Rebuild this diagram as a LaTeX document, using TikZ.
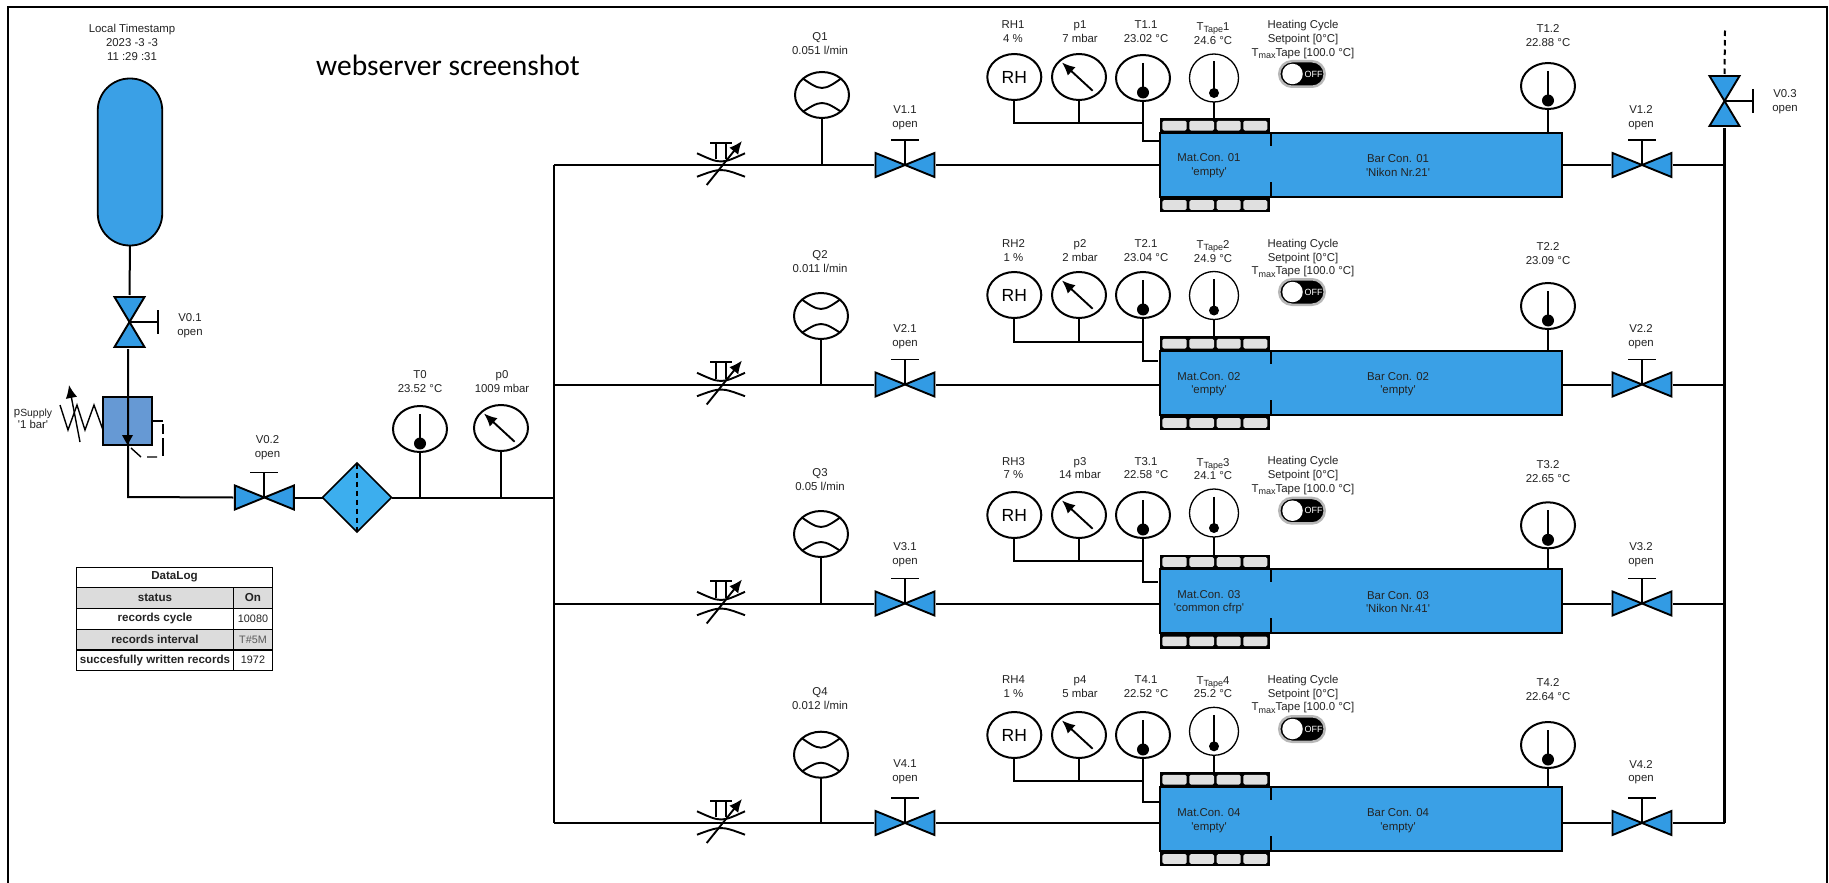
\documentclass[tikz,border=0pt]{standalone}
\usepackage{fontspec}
\setmainfont{Liberation Sans}[Ligatures=TeXOff]
\newfontfamily\titlefont{Carlito}
\usetikzlibrary{shapes.geometric, arrows.meta}
\definecolor{PlantBlue}{RGB}{58, 160, 230}
\definecolor{ValveBlue}{RGB}{50, 155, 228}
\definecolor{FilterBlue}{RGB}{60, 174, 238}
\definecolor{RegBlue}{RGB}{102, 153, 212}
\definecolor{CellGray}{RGB}{224, 224, 224}
\definecolor{RowGray}{RGB}{220, 220, 220}
\definecolor{LabelDark}{RGB}{35, 35, 35}
\newcommand{\lowtext}[1]{\raisebox{-2.5pt}{\fontsize{9}{9}\selectfont #1}}

\begin{document}
\begin{tikzpicture}[x=1pt, y=-1pt,
  lbl/.style={align=center, inner sep=0pt, text=LabelDark, yshift=-0.8pt,
    font=\fontsize{11.4}{13.8}\selectfont},
  pipe/.style={line width=2pt},
  wire/.style={line width=1.8pt},
  sym/.style={draw=black, line width=1.9pt, line join=miter},
  pin/.style={shift={(path picture bounding box.center)}},
  tip/.style={-{Latex[length=13pt, width=11.5pt]}},
  valveh/.style={minimum width=62pt, minimum height=58pt, inner sep=0pt, outer sep=0pt,
    path picture={
      \draw[sym, fill=ValveBlue, pin] (-29.5,-12) -- (0,0) -- (-29.5,12) -- cycle;
      \draw[sym, fill=ValveBlue, pin] (29.5,-12) -- (0,0) -- (29.5,12) -- cycle;
      \draw[sym, pin] (0,0) -- (0,-25) (-14,-25) -- (14,-25);}},
  valvev/.style={minimum width=62pt, minimum height=54pt, inner sep=0pt, outer sep=0pt,
    path picture={
      \draw[sym, fill=ValveBlue, pin] (-15,-25) -- (0,0) -- (15,-25) -- cycle;
      \draw[sym, fill=ValveBlue, pin] (-15,25) -- (0,0) -- (15,25) -- cycle;
      \draw[sym, pin] (0,0) -- (28.5,0) (28.5,-12) -- (28.5,12);}},
  gauge/.style={ellipse, draw=black, fill=white, line width=2pt, inner sep=0pt, outer sep=0pt,
    minimum width=54pt, minimum height=46pt},
  tgauge/.style={gauge, path picture={
      \draw[sym, pin, line width=1.5pt] (0,-15) -- (0,14);
      \fill[black, pin] (0,14.5) circle (6pt);}},
  pgauge/.style={gauge, path picture={
      \draw[sym, pin, tip] (13.6,13.7) -- (-17,-14.5);}},
  qgauge/.style={gauge, path picture={
      \draw[sym, pin] (-24,-20) .. controls (0,-2.7) .. (24,-20);
      \draw[sym, pin] (-24,20) .. controls (0,4) .. (24,20);}},
  rhgauge/.style={gauge, font=\fontsize{17.5}{18}\selectfont},
  tapegauge/.style={gauge, line width=1.3pt, minimum width=49pt, minimum height=48pt, path picture={
      \draw[sym, pin, line width=1.4pt] (0,-16.5) -- (0,14);
      \fill[black, pin] (0,15) circle (5pt);}},
  throttle/.style={minimum width=64pt, minimum height=62pt, inner sep=0pt, outer sep=0pt,
    path picture={
      \draw[sym, pin] (-24,-11.7) .. controls (0,-0.8) .. (24,-11.7);
      \draw[sym, pin] (-24,11.7) .. controls (0,2.8) .. (24,11.7);
      \draw[sym, pin, line width=1.6pt] (-11,-22.3) -- (11,-22.3) (-5.3,-22.3) -- (-5.3,-6) (5,-22.3) -- (5,-6);
      \draw[sym, pin, tip] (-14.3,20) -- (21,-24);}},
  barbox/.style={draw=black, fill=PlantBlue, line width=1.8pt, inner sep=0pt, outer sep=0pt,
    minimum width=402pt, minimum height=64pt,
    path picture={
      \draw[sym, pin] (-90,-32) -- (-90,-19) (-90,17) -- (-90,32);}},
  strip/.style={fill=black, inner sep=0pt, outer sep=0pt, minimum width=110pt, minimum height=14.7pt,
    path picture={
      \fill[CellGray, pin, rounded corners=1.5pt] (-52.7,-4.8) rectangle (-28.3,4.8);
      \fill[CellGray, pin, rounded corners=1.5pt] (-25.7,-4.8) rectangle (-1,4.8);
      \fill[CellGray, pin, rounded corners=1.5pt] (1.7,-4.8) rectangle (25.7,4.8);
      \fill[CellGray, pin, rounded corners=1.5pt] (28.3,-4.8) rectangle (52.3,4.8);}},
  onoff/.style={draw=black!28, fill=black, line width=2.5pt, rounded corners=12.75pt, inner sep=0pt,
    minimum width=45.5pt, minimum height=25.5pt, text width=41pt, align=right, text=white,
    font=\fontsize{9}{9}\selectfont},
  knob/.style={circle, fill=white, inner sep=0pt, minimum size=20.5pt},
  tbl/.style={draw=black, line width=0.8pt, inner sep=0pt, outer sep=0pt, minimum height=20.6pt,
    font=\fontsize{10.8}{12}\selectfont, text=LabelDark},
  thead/.style={tbl, font=\fontsize{11.6}{12}\bfseries\selectfont}
]
\useasboundingbox (0,0) rectangle (1829,883);
\fill[white] (0,0) rectangle (1829,883);
\draw[line width=1.8pt] (8,883) -- (8,7) -- (1827,7) -- (1827,883);

\node[font=\titlefont\fontsize{29.5}{30}\selectfont, inner sep=0pt] (title) at (448,65) {webserver screenshot};

% Supply - tank and regulator
\node[lbl] (stamp) at (132,41.5) {Local Timestamp\\2023 -3 -3\\11 :29 :31};
\node[draw=black, fill=PlantBlue, line width=1.8pt, rounded corners=32pt, minimum width=64.5pt,
      minimum height=167pt, inner sep=0pt, outer sep=0pt] (tank) at (130,162) {};
\node[valvev] (v01) at (129.5,322) {};
\node[lbl] (lv01) at (190,325) {V0.1\\open};
\node[draw=black, fill=RegBlue, line width=1.6pt, minimum width=49pt, minimum height=48pt, inner sep=0pt,
      path picture={\fill[black, pin] (-5.5,14) -- (5.5,14) -- (0,24) -- cycle;}] (reg) at (127.5,421) {};
\node[lbl, inner sep=0pt] (lreg) at (33,418) {p{\fontsize{10.4}{12}\selectfont\raisebox{-1pt}{Supply}}\\'1 bar'};
\node[valveh] (v02) at (264.4,497.5) {};
\node[lbl] (lv02) at (267.5,447) {V0.2\\open};
\node[diamond, shape aspect=1, draw=black, fill=FilterBlue, line width=1.6pt, inner sep=0pt, outer sep=0pt,
      minimum width=69pt, minimum height=69pt,
      path picture={\draw[pin, dash pattern=on 5pt off 4pt, line width=1.5pt] (0,-34) -- (0,34);}] (filter) at (357,497.5) {};
\node[tgauge] (t0) at (420,429) {};
\node[lbl] (lt0) at (420,381) {T0\\23.52 °C};
\node[pgauge] (p0) at (501,428) {};
\node[lbl] (lp0) at (502,381) {p0\\1009 mbar};
\coordinate (bend) at (128,497);
\coordinate (t1) at (554,165);
\coordinate (t4) at (554,823);
\coordinate (feed) at (554,497.5);
\coordinate (r4) at (1724.5,823);

\draw[pipe] (tank.south) -- (v01.north);
\draw[pipe] ([xshift=-1.5pt]v01.south) -- (bend) -- (v02.west);
\draw[pipe] (v02.east) -- (filter.west);
\draw[pipe] (filter.east) -- (feed);
\draw[pipe] (t0.south) -- (t0.south |- feed);
\draw[pipe] (p0.south) -- (p0.south |- feed);
\draw[pipe] (t1) -- (t4);

% Regulator spring and pilot line
\draw[line width=1.4pt] (60,405) -- (68,430) -- (77,405) -- (85,430) -- (94,405) -- (103,430);
\draw[line width=1.4pt, tip] (80,442) -- (69,385);
\draw[line width=1.4pt] (131,448) -- (141,457) (147,457) -- (157,457);
\draw[line width=1.4pt] (152,421) -- (163,421) (163,424) -- (163,434) (163,438) -- (163,456);

% Vent valve
\node[valvev] (v03) at (1724.5,101) {};
\node[lbl] (lv03) at (1785,101) {V0.3\\open};
\coordinate (vent) at (1725,30);
\draw[pipe, dash pattern=on 5.5pt off 4pt] (v03.north) -- (vent);
\draw[pipe, line width=2.2pt] (v03.south) -- (r4);

% Row 1
\coordinate (t1a) at (554,165);
\coordinate (r1) at (1724.5,165);
\coordinate (c1) at (1143,123);
\coordinate (i1) at (1160,141);
\node[throttle] (fc1) at (721,165) {};
\node[qgauge] (q1) at (822,95) {};
\node[lbl] (lq1) at (820,43) {Q1\\0.051 l/min};
\node[valveh] (v11) at (905,165) {};
\node[lbl] (lv11) at (905,117) {V1.1\\open};
\node[rhgauge] (rh1) at (1014.3,77) {RH};
\node[lbl] (lrh1) at (1013,31) {RH1\\4 \%};
\node[pgauge] (p1) at (1079,77) {};
\node[lbl] (lp1) at (1080,31) {p1\\7 mbar};
\node[tgauge] (t11) at (1143,78) {};
\node[lbl] (lt11) at (1146,31) {T1.1\\23.02 °C};
\node[tapegauge] (tp1) at (1214,78) {};
\node[lbl] (ltp1) at (1213,32.5) {T\lowtext{Tape}1\\24.6 °C};
\node[lbl] (heat1) at (1303,39) {Heating Cycle\\Setpoint [0°C]\\T\lowtext{max}Tape [100.0 °C]};
\node[onoff] (sw1) at (1302,74) {OFF};
\node[knob] (kn1) at ([xshift=-9.5pt]sw1.center) {};
\node[strip] (st1) at (1215,125.7) {};
\node[strip] (sb1) at (1215,205) {};
\node[barbox] (b1) at (1361,165) {};
\node[lbl] (mc1) at (1209,165) {Mat.Con. 01\\'empty'};
\node[lbl] (bc1) at (1398,165) {Bar Con. 01\\'Nikon Nr.21'};
\node[tgauge] (t12) at (1548,86) {};
\node[lbl] (lt12) at (1548,35) {T1.2\\22.88 °C};
\node[valveh] (v12) at (1642,165) {};
\node[lbl] (lv12) at (1641,117) {V1.2\\open};

\draw[pipe] (t1a) -- (v11.west);
\draw[pipe] (q1.south) -- (q1.south |- v11);
\draw[pipe] (v11.east) -- (v11.east -| b1.west);
\draw[wire] (rh1.south) |- (c1);
\draw[wire] (p1.south) -- (p1.south |- c1);
\draw[wire] (t11.south) |- (i1);
\draw[wire] (tp1.south) -- (tp1.south |- st1.north);
\draw[wire] (t12.south) -- (t12.south |- b1.north);
\draw[pipe] (v12.west -| b1.east) -- (v12.west);
\draw[pipe] (v12.east) -- (r1);

% Row 2
\coordinate (t2a) at (554,384.5);
\coordinate (r2) at (1724.5,384.5);
\coordinate (c2) at (1143,341.7);
\coordinate (i2) at (1158,361);
\node[throttle] (fc2) at (721,384.5) {};
\node[qgauge] (q2) at (821,316) {};
\node[lbl] (lq2) at (820,261) {Q2\\0.011 l/min};
\node[valveh] (v21) at (905,384.5) {};
\node[lbl] (lv21) at (905,335.5) {V2.1\\open};
\node[rhgauge] (rh2) at (1014.3,295) {RH};
\node[lbl] (lrh2) at (1013.5,249.5) {RH2\\1 \%};
\node[pgauge] (p2) at (1079,295) {};
\node[lbl] (lp2) at (1080,249.5) {p2\\2 mbar};
\node[tgauge] (t21) at (1143,295) {};
\node[lbl] (lt21) at (1146,249.5) {T2.1\\23.04 °C};
\node[tapegauge] (tp2) at (1214,295.5) {};
\node[lbl] (ltp2) at (1213,250.5) {T\lowtext{Tape}2\\24.9 °C};
\node[lbl] (heat2) at (1303,257.5) {Heating Cycle\\Setpoint [0°C]\\T\lowtext{max}Tape [100.0 °C]};
\node[onoff] (sw2) at (1302,292) {OFF};
\node[knob] (kn2) at ([xshift=-9.5pt]sw2.center) {};
\node[strip] (st2) at (1215,343.7) {};
\node[strip] (sb2) at (1215,423) {};
\node[barbox] (b2) at (1361,383) {};
\node[lbl] (mc2) at (1209,383.3) {Mat.Con. 02\\'empty'};
\node[lbl] (bc2) at (1398,383.3) {Bar Con. 02\\'empty'};
\node[tgauge] (t22) at (1548,306) {};
\node[lbl] (lt22) at (1548,253) {T2.2\\23.09 °C};
\node[valveh] (v22) at (1642,384.5) {};
\node[lbl] (lv22) at (1641,335.5) {V2.2\\open};

\draw[pipe] (t2a) -- (v21.west);
\draw[pipe] (q2.south) -- (q2.south |- v21);
\draw[pipe] (v21.east) -- (v21.east -| b2.west);
\draw[wire] (rh2.south) |- (c2);
\draw[wire] (p2.south) -- (p2.south |- c2);
\draw[wire] (t21.south) |- (i2);
\draw[wire] (tp2.south) -- (tp2.south |- st2.north);
\draw[wire] (t22.south) -- (t22.south |- b2.north);
\draw[pipe] (v22.west -| b2.east) -- (v22.west);
\draw[pipe] (v22.east) -- (r2);

% Row 3
\coordinate (t3a) at (554,603.5);
\coordinate (r3) at (1724.5,603.5);
\coordinate (c3) at (1143,561);
\coordinate (i3) at (1158,582);
\node[throttle] (fc3) at (721,603.5) {};
\node[qgauge] (q3) at (821,534) {};
\node[lbl] (lq3) at (820,479) {Q3\\0.05 l/min};
\node[valveh] (v31) at (905,603.5) {};
\node[lbl] (lv31) at (905,553.5) {V3.1\\open};
\node[rhgauge] (rh3) at (1014.3,515) {RH};
\node[lbl] (lrh3) at (1013.5,467.3) {RH3\\7 \%};
\node[pgauge] (p3) at (1079,515) {};
\node[lbl] (lp3) at (1080,467.3) {p3\\14 mbar};
\node[tgauge] (t31) at (1143,515) {};
\node[lbl] (lt31) at (1146,467.3) {T3.1\\22.58 °C};
\node[tapegauge] (tp3) at (1214,513) {};
\node[lbl] (ltp3) at (1213,468.3) {T\lowtext{Tape}3\\24.1 °C};
\node[lbl] (heat3) at (1303,475) {Heating Cycle\\Setpoint [0°C]\\T\lowtext{max}Tape [100.0 °C]};
\node[onoff] (sw3) at (1302,510.7) {OFF};
\node[knob] (kn3) at ([xshift=-9.5pt]sw3.center) {};
\node[strip] (st3) at (1215,562) {};
\node[strip] (sb3) at (1215,641.3) {};
\node[barbox] (b3) at (1361,601.3) {};
\node[lbl] (mc3) at (1209,601.3) {Mat.Con. 03\\'common cfrp'};
\node[lbl] (bc3) at (1398,601.3) {Bar Con. 03\\'Nikon Nr.41'};
\node[tgauge] (t32) at (1548,525.3) {};
\node[lbl] (lt32) at (1548,471) {T3.2\\22.65 °C};
\node[valveh] (v32) at (1642,603.5) {};
\node[lbl] (lv32) at (1641,553.5) {V3.2\\open};

\draw[pipe] (t3a) -- (v31.west);
\draw[pipe] (q3.south) -- (q3.south |- v31);
\draw[pipe] (v31.east) -- (v31.east -| b3.west);
\draw[wire] (rh3.south) |- (c3);
\draw[wire] (p3.south) -- (p3.south |- c3);
\draw[wire] (t31.south) |- (i3);
\draw[wire] (tp3.south) -- (tp3.south |- st3.north);
\draw[wire] (t32.south) -- (t32.south |- b3.north);
\draw[pipe] (v32.west -| b3.east) -- (v32.west);
\draw[pipe] (v32.east) -- (r3);

% Row 4
\coordinate (c4) at (1143,781.3);
\coordinate (i4) at (1160,801.7);
\node[throttle] (fc4) at (721,823) {};
\node[qgauge] (q4) at (821,754.7) {};
\node[lbl] (lq4) at (820,697.5) {Q4\\0.012 l/min};
\node[valveh] (v41) at (905,823) {};
\node[lbl] (lv41) at (905,771.3) {V4.1\\open};
\node[rhgauge] (rh4) at (1014.3,735) {RH};
\node[lbl] (lrh4) at (1013.5,685.5) {RH4\\1 \%};
\node[pgauge] (p4) at (1079,735) {};
\node[lbl] (lp4) at (1080,685.5) {p4\\5 mbar};
\node[tgauge] (t41) at (1143,735) {};
\node[lbl] (lt41) at (1146,685.5) {T4.1\\22.52 °C};
\node[tapegauge] (tp4) at (1214,731.3) {};
\node[lbl] (ltp4) at (1213,686.3) {T\lowtext{Tape}4\\25.2 °C};
\node[lbl] (heat4) at (1303,693.5) {Heating Cycle\\Setpoint [0°C]\\T\lowtext{max}Tape [100.0 °C]};
\node[onoff] (sw4) at (1302,729) {OFF};
\node[knob] (kn4) at ([xshift=-9.5pt]sw4.center) {};
\node[strip] (st4) at (1215,779.7) {};
\node[strip] (sb4) at (1215,859) {};
\node[barbox] (b4) at (1361,819) {};
\node[lbl] (mc4) at (1209,820) {Mat.Con. 04\\'empty'};
\node[lbl] (bc4) at (1398,820) {Bar Con. 04\\'empty'};
\node[tgauge] (t42) at (1548,745) {};
\node[lbl] (lt42) at (1548,689) {T4.2\\22.64 °C};
\node[valveh] (v42) at (1642,823) {};
\node[lbl] (lv42) at (1641,771.3) {V4.2\\open};

\draw[pipe] (t4) -- (v41.west);
\draw[pipe] (q4.south) -- (q4.south |- v41);
\draw[pipe] (v41.east) -- (v41.east -| b4.west);
\draw[wire] (rh4.south) |- (c4);
\draw[wire] (p4.south) -- (p4.south |- c4);
\draw[wire] (t41.south) |- (i4);
\draw[wire] (tp4.south) -- (tp4.south |- st4.north);
\draw[wire] (t42.south) -- (t42.south |- b4.north);
\draw[pipe] (v42.west -| b4.east) -- (v42.west);
\draw[pipe] (v42.east) -- (r4);

% Data log table
\node[thead, minimum width=196pt] (dlog) at (174.5,577.2) {DataLog};
\node[thead, fill=RowGray, minimum width=157pt] (k1) at (155,598) {status};
\node[thead, fill=RowGray, minimum width=39pt] (w1) at (253,598) {On};
\node[thead, minimum width=157pt] (k2) at (155,618.8) {records cycle};
\node[tbl, minimum width=39pt] (w2) at (253,618.8) {10080};
\node[thead, fill=RowGray, minimum width=157pt] (k3) at (155,639.6) {records interval};
\node[tbl, fill=RowGray, minimum width=39pt, text=black!65] (w3) at (253,639.6) {T\#5M};
\node[thead, minimum width=157pt] (k4) at (155,660) {succesfully written records};
\node[tbl, minimum width=39pt] (w4) at (253,660) {1972};
\end{tikzpicture}
\end{document}
